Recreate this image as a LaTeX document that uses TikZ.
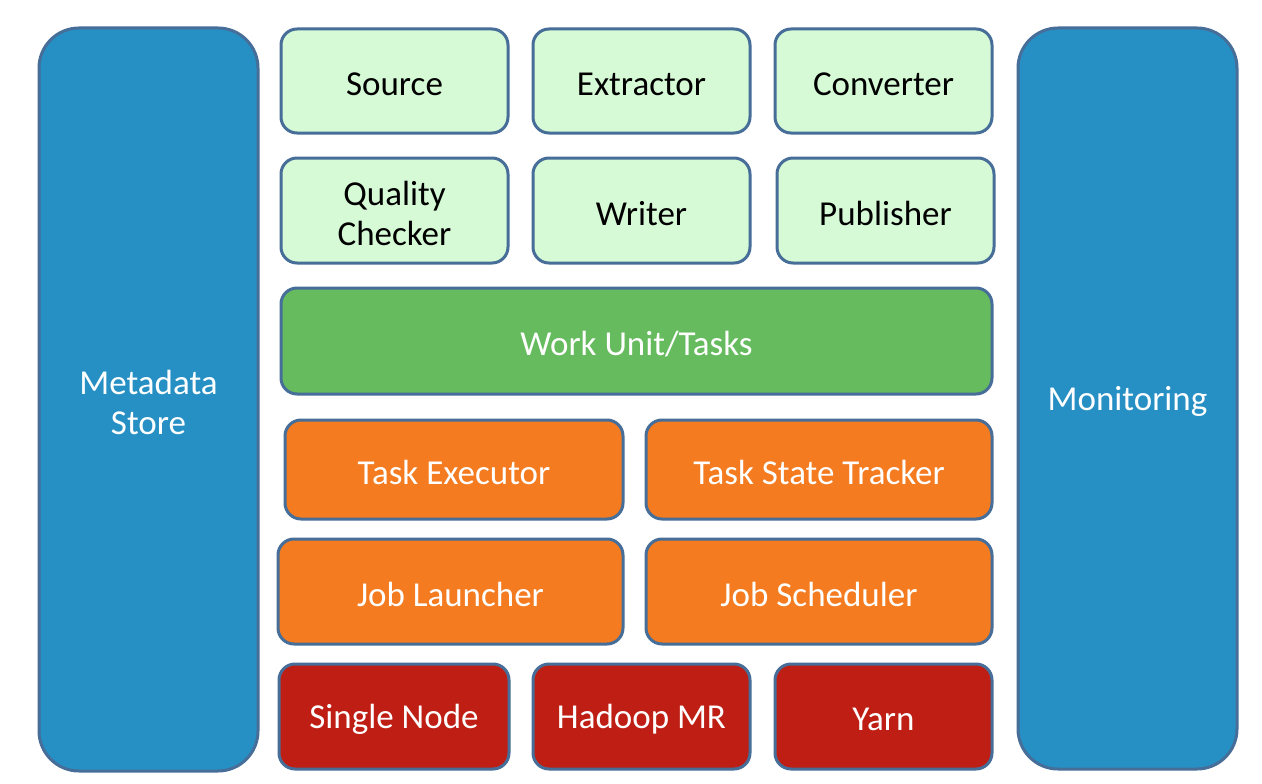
\documentclass[tikz,border=0pt]{standalone}
\usepackage{fontspec}
\setmainfont{Carlito}
\definecolor{edge}{RGB}{70,110,152}
\definecolor{pillar}{RGB}{38,144,196}
\definecolor{stage}{RGB}{214,250,214}
\definecolor{unit}{RGB}{102,187,95}
\definecolor{runtime}{RGB}{244,123,32}
\definecolor{engine}{RGB}{190,30,19}
\tikzset{
  blk/.style={draw=edge, line width=3pt, rounded corners=16pt, inner sep=0pt},
  txt/.style={align=center, inner sep=0pt, yshift=-3pt,
    font=\fontsize{35}{40}\selectfont},
  pillarbox/.style={blk, fill=pillar, rounded corners=40pt},
  stagebox/.style={blk, fill=stage},
  unitbox/.style={blk, fill=unit},
  runbox/.style={blk, fill=runtime},
  enginebox/.style={blk, fill=engine},
}
% box given by corners (x1,y1) (x2,y2) in pixel units, y downward;
% #8 is the text colour
\newcommand{\blkbox}[8]{%
  \node[#1, minimum width=#5-#3, minimum height=#6-#4,
    label={[txt, text=#8]center:#7}] (#2) at ({(#3+#5)/2},{(#4+#6)/2}) {};}
\begin{document}
\begin{tikzpicture}[x=1pt,y=-1pt]
\useasboundingbox (0,0) rectangle (1262,784);
\fill[white] (0,0) rectangle (1262,784);
\blkbox{pillarbox}{meta}{39}{28}{258}{771}{Metadata\\Store}{white}
\blkbox{pillarbox}{mon}{1018}{28}{1237}{769}{Monitoring}{white}
\blkbox{stagebox}{src}{281}{29}{508}{133}{Source}{black}
\blkbox{stagebox}{ext}{533}{29}{750}{133}{Extractor}{black}
\blkbox{stagebox}{conv}{775}{29}{992}{133}{Converter}{black}
\blkbox{stagebox}{qc}{281}{158}{508}{263}{Quality\\Checker}{black}
\blkbox{stagebox}{wr}{533}{158}{750}{263}{Writer}{black}
\blkbox{stagebox}{pub}{777}{158}{994}{263}{Publisher}{black}
\blkbox{unitbox}{wu}{281}{288}{992}{394}{Work Unit/Tasks}{white}
\blkbox{runbox}{te}{285}{420}{623}{519}{Task Executor}{white}
\blkbox{runbox}{tst}{646}{420}{992}{519}{Task State Tracker}{white}
\blkbox{runbox}{jl}{278}{539}{623}{644}{Job Launcher}{white}
\blkbox{runbox}{js}{646}{539}{992}{644}{Job Scheduler}{white}
\blkbox{enginebox}{sn}{279}{664}{509}{769}{Single Node}{white}
\blkbox{enginebox}{hmr}{533}{664}{750}{769}{Hadoop MR}{white}
\blkbox{enginebox}{yarn}{775}{664}{992}{769}{Yarn}{white}
\end{tikzpicture}
\end{document}
